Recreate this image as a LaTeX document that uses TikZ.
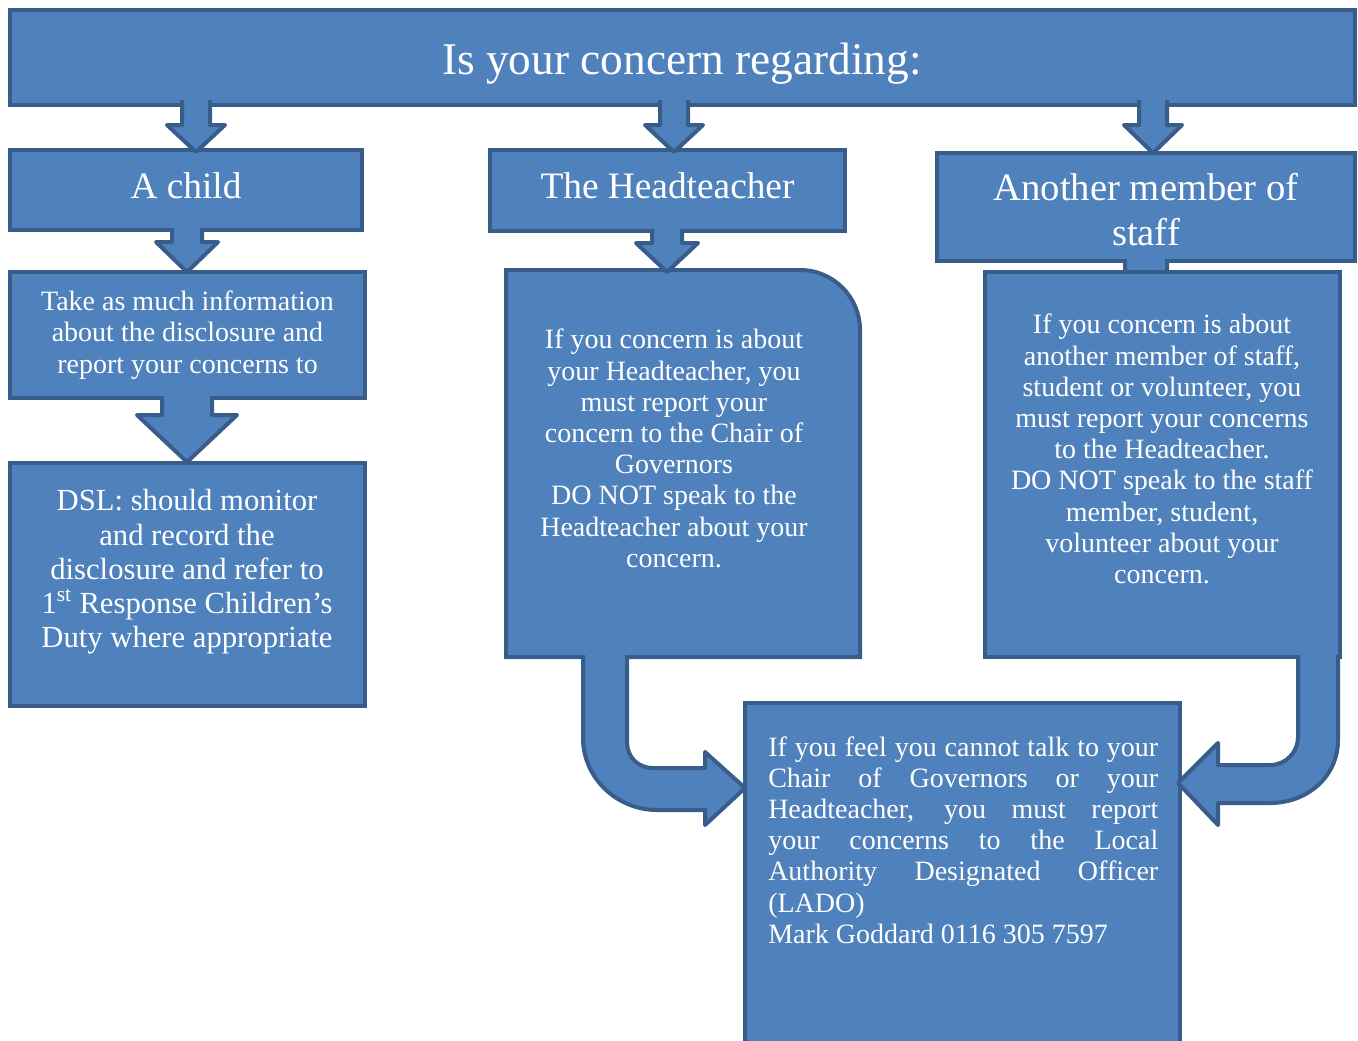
\documentclass[tikz,border=0pt]{standalone}
\usepackage{fontspec}
\setmainfont{Liberation Serif}
\definecolor{boxfill}{HTML}{4F81BD}
\definecolor{boxline}{HTML}{385D8A}
\tikzset{
  flowbox/.style={draw=boxline,fill=boxfill,line width=3pt,text=white,inner sep=0pt,align=center},
  blockarrow/.style={draw=boxline,fill=boxfill,line width=3pt,line join=round},
  bodytext/.style={text=white,inner sep=0pt,font=\fontsize{21}{23.4}\selectfont},
}
% down block arrow: centre x, top, neck, tip, half shaft, half head
\newcommand{\blockdown}[6]{%
  \filldraw[blockarrow] (#1-#5,#2) -- (#1-#5,#3) -- (#1-#6,#3) -- (#1,#4)
    -- (#1+#6,#3) -- (#1+#5,#3) -- (#1+#5,#2);}

\begin{document}
\begin{tikzpicture}[x=0.75pt,y=-0.75pt]
\useasboundingbox (0,0) rectangle (1358,1040);

\node (title) at (682.5,57.5) [flowbox,minimum width=1008.75pt,minimum height=71.25pt] {};
\node (titletext) at (682,63.5) [bodytext,font=\fontsize{34}{40}\selectfont] {Is your concern regarding:};

\node (child) at (186,190) [flowbox,minimum width=264pt,minimum height=60pt] {};
\node (childtext) at (186,186) [bodytext,font=\fontsize{28}{33}\selectfont] {A child};
\node (head) at (667.5,190.5) [flowbox,minimum width=266.25pt,minimum height=60.75pt] {};
\node (headtitle) at (667.5,185.5) [bodytext,font=\fontsize{28}{33}\selectfont] {The Headteacher};
\node (staff) at (1146,207) [flowbox,minimum width=313.5pt,minimum height=81pt] {};
\node (stafftext) at (1146,210) [bodytext,align=center,font=\fontsize{29}{33.75}\selectfont]
  {Another member of\\staff};

\node (take) at (187.5,335) [flowbox,minimum width=266.25pt,minimum height=94.5pt,
  font=\fontsize{21}{23.4}\selectfont]
  {Take as much information\\about the disclosure and\\report your concerns to};
\node (dsl) at (187.5,584.5) [flowbox,minimum width=266.25pt,minimum height=182.25pt] {};
\node (dsltext) at (187,572) [bodytext,align=center,font=\fontsize{23}{25.7}\selectfont]
  {DSL: should monitor\\and record the\\disclosure and refer to\\1\textsuperscript{st} Response Children’s\\Duty where appropriate};

% headteacher concern, one round corner
\filldraw[draw=boxline,fill=boxfill,line width=3pt] (506,270) [rounded corners=45pt] -- (860,270)
  [sharp corners] -- (860,657) -- (506,657) -- cycle;
\node (headtext) at (674,448.5) [bodytext,align=center]
  {If you concern is about\\your Headteacher, you\\must report your\\concern to the Chair of\\Governors\\DO NOT speak to the\\Headteacher about your\\concern.};

\blockdown{1146}{259}{285}{300}{21}{35}
\node (other) at (1162.5,464.5) [flowbox,minimum width=266.25pt,minimum height=288.75pt] {};
\node (othertext) at (1162,449) [bodytext,align=center]
  {If you concern is about\\another member of staff,\\student or volunteer, you\\must report your concerns\\to the Headteacher.\\DO NOT speak to the staff\\member, student,\\volunteer about your\\concern.};

\node (lado) at (962.5,874) [flowbox,minimum width=326.25pt,minimum height=256.5pt] {};
\node (ladotext) at (768,736) [bodytext,anchor=north west,text width=292.5pt,align=justify]
  {If you feel you cannot talk to your\linebreak Chair of Governors or your\linebreak
   Headteacher, you must report\linebreak your concerns to the Local\linebreak
   Authority Designated Officer\linebreak (LADO)\\Mark Goddard 0116 305 7597};

% arrows
\blockdown{196}{100}{125}{152}{14}{29}
\blockdown{674}{100}{125}{152}{14}{29}
\blockdown{1153}{100}{125}{153}{14}{29}
\blockdown{187}{228}{242}{272}{15}{31}
\blockdown{667}{229}{243}{272}{15}{31}
\blockdown{187}{396}{415}{462}{25}{50}

\filldraw[blockarrow] (583,655) -- (583,738) .. controls (583,778) and (617,810) .. (657,810)
  -- (705,810) -- (705,825) -- (745,788) -- (705,752) -- (705,768) -- (653,768)
  .. controls (638,768) and (627,757) .. (627,742) -- (627,655);
\filldraw[blockarrow] (1338,655) -- (1338,740) .. controls (1338,776) and (1308,803) .. (1270,803)
  -- (1218,803) -- (1218,825) -- (1178,783) -- (1218,743) -- (1218,765) -- (1270,765)
  .. controls (1286,765) and (1298,752) .. (1298,737) -- (1298,655);
\end{tikzpicture}
\end{document}
